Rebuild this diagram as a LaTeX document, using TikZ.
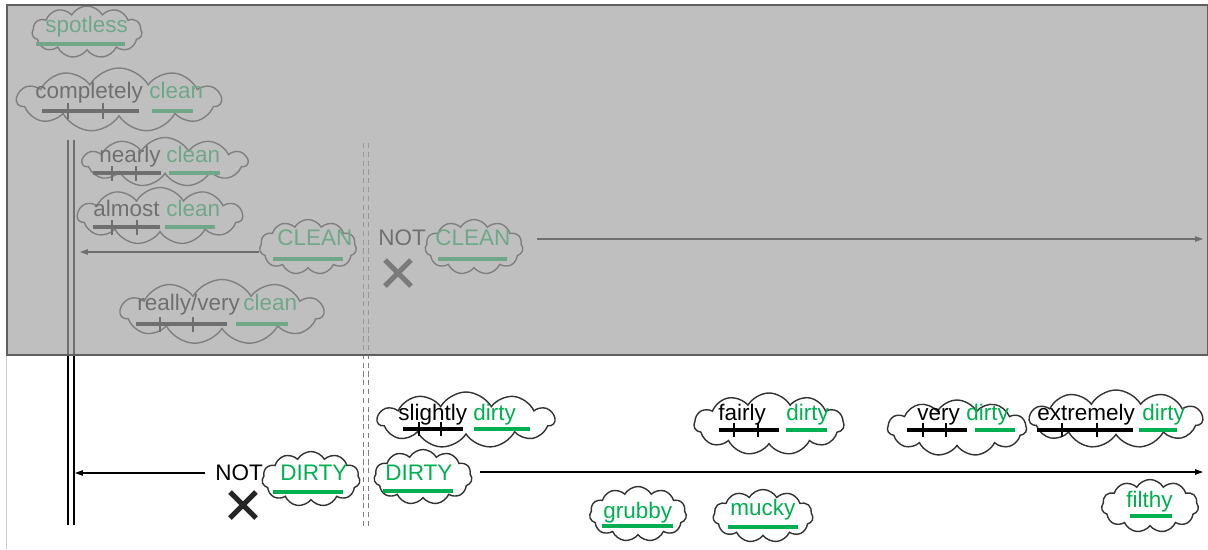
\documentclass[tikz,border=0pt]{standalone}
\usepackage{fontspec}
\newfontfamily\wordfont{Liberation Sans}
\usetikzlibrary{shapes.symbols,arrows.meta}
\definecolor{okgreen}{RGB}{0,176,80}
\definecolor{veil}{gray}{0.64}
\definecolor{veilline}{RGB}{96,96,96}
\tikzset{
  puff/.style={cloud, cloud puffs=11, cloud puff arc=120, cloud ignores aspect, draw=black!80, fill=white, line width=0.8pt, inner sep=0pt},
  word/.style={inner sep=0pt, anchor=base west, font=\wordfont\fontsize{12.8}{15}\selectfont},
  gword/.style={word, text=okgreen},
  scalebar/.style={line width=2.3pt},
  gbar/.style={line width=2.3pt, okgreen},
  tick/.style={line width=0.9pt},
  arrow/.style={line width=0.6pt, -{Triangle[length=1.6mm,width=1.1mm]}},
  cross/.style={line width=3pt, black!85},
}
\begin{document}
\begin{tikzpicture}[x=0.02cm, y=-0.02cm]
    \useasboundingbox (0,0) rectangle (1208,549);
    \fill[white] (0,0) rectangle (1208,549);
    \draw[black!20] (6,355) -- (6,549);

    % Draw rails
    \draw[line width=0.6pt] (68,140) -- (68,525);
    \draw[line width=0.6pt] (74,140) -- (74,525);
    \draw[gray, densely dashed, line width=0.5pt] (363,143) -- (363,527);
    \draw[gray, densely dashed, line width=0.5pt] (368,143) -- (368,527);

    % Draw clean clouds
    \node[puff, minimum width=2.2cm, minimum height=1.04cm] (spotless) at (87,32) {};
    \node[puff, minimum width=4.08cm, minimum height=1.28cm] (completely) at (119,100) {};
    \node[puff, minimum width=3.3cm, minimum height=0.98cm] (nearly) at (165,162) {};
    \node[puff, minimum width=3.3cm, minimum height=1.14cm] (almost) at (160,216) {};
    \node[puff, minimum width=1.94cm, minimum height=1.1cm] (cleanA) at (308,247) {};
    \node[puff, minimum width=1.96cm, minimum height=1.1cm] (notclean) at (474,247) {};
    \node[puff, minimum width=4.06cm, minimum height=1.3cm] (really) at (222,312) {};

    % Draw clean words
    \node[gword] (spotlessW) at (45,32) {spotless};
    \draw[gbar] (36,44) -- (125,44);

    \node[word] (completelyW) at (35,98) {completely};
    \node[gword] (completelyC) at (149,98) {clean};
    \draw[scalebar] (42,111) -- (139,111);
    \draw[tick] (68,103) -- (68,119);
    \draw[tick] (103,103) -- (103,119);
    \draw[gbar] (152,111) -- (193,111);

    \node[word] (nearlyW) at (99,162) {nearly};
    \node[gword] (nearlyC) at (166,162) {clean};
    \draw[scalebar] (93,173) -- (161,173);
    \draw[tick] (112,166) -- (112,181);
    \draw[tick] (136,166) -- (136,181);
    \draw[gbar] (169,173) -- (220,173);

    \node[word] (almostW) at (93,216) {almost};
    \node[gword] (almostC) at (166,216) {clean};
    \draw[scalebar] (93,227) -- (160,227);
    \draw[tick] (112,220) -- (112,235);
    \draw[tick] (137,220) -- (137,235);
    \draw[gbar] (165,227) -- (215,227);

    \node[gword] (cleanW) at (277,245) {CLEAN};
    \draw[gbar] (273,259) -- (343,259);

    \node[word] (notC) at (378,245) {NOT};
    \draw[cross] (385,260) -- (411,286);
    \draw[cross] (385,286) -- (411,260);
    \node[gword] (notcleanW) at (435,245) {CLEAN};
    \draw[gbar] (438,259) -- (507,259);

    \node[word] (reallyW) at (137,310) {really/very};
    \node[gword] (reallyC) at (243,310) {clean};
    \draw[scalebar] (136,324) -- (227,324);
    \draw[tick] (160,317) -- (160,332);
    \draw[tick] (193,317) -- (193,332);
    \draw[gbar] (236,324) -- (288,324);

    % Draw clean arrows
    \coordinate (cleanstop) at (80,252);
    \draw[arrow] (cleanA.west |- cleanstop) -- (cleanstop);
    \coordinate (cleango) at (1203,239);
    \draw[arrow, shorten <=0.28cm] (notclean.east |- cleango) -- (cleango);

    % Draw veil
    \fill[veil, fill opacity=0.686] (7,5) rectangle (1208,355);
    \draw[veilline, line width=0.8pt] (7,5) rectangle (1208,355);

    % Draw dirty clouds
    \node[puff, minimum width=3.54cm, minimum height=1.12cm] (slightly) at (466,420) {};
    \node[puff, minimum width=3.0cm, minimum height=1.24cm] (fairly) at (769,424) {};
    \node[puff, minimum width=2.78cm, minimum height=1.12cm] (very) at (957,428) {};
    \node[puff, minimum width=3.46cm, minimum height=1.16cm] (extremely) at (1116,419) {};
    \node[puff, minimum width=1.96cm, minimum height=1.1cm] (dirtyR) at (423,477) {};
    \node[puff, minimum width=1.96cm, minimum height=1.1cm] (dirtyL) at (311,479) {};
    \node[puff, minimum width=1.94cm, minimum height=1.1cm] (grubby) at (638,514) {};
    \node[puff, minimum width=2.0cm, minimum height=1.06cm] (mucky) at (763,516) {};
    \node[puff, minimum width=1.94cm, minimum height=1.06cm] (filthy) at (1150,506) {};

    % Draw dirty words
    \node[word] (slightlyW) at (398,420) {slightly};
    \node[gword] (slightlyD) at (473,420) {dirty};
    \draw[scalebar] (403,429) -- (463,429);
    \draw[tick] (419,422) -- (419,436);
    \draw[tick] (441,422) -- (441,436);
    \draw[gbar] (474,429) -- (530,429);

    \node[word] (fairlyW) at (718,420) {fairly};
    \node[gword] (fairlyD) at (786,420) {dirty};
    \draw[scalebar] (719,430) -- (779,430);
    \draw[tick] (734,423) -- (734,437);
    \draw[tick] (758,423) -- (758,437);
    \draw[gbar] (786,430) -- (827,430);

    \node[word] (veryW) at (917,420) {very};
    \node[gword] (veryD) at (966,420) {dirty};
    \draw[scalebar] (907,430) -- (967,430);
    \draw[tick] (923,423) -- (923,437);
    \draw[tick] (946,423) -- (946,437);
    \draw[gbar] (975,430) -- (1015,430);

    \node[word] (extremelyW) at (1037,420) {extremely};
    \node[gword] (extremelyD) at (1142,420) {dirty};
    \draw[scalebar] (1037,430) -- (1133,430);
    \draw[tick] (1062,423) -- (1062,437);
    \draw[tick] (1097,423) -- (1097,437);
    \draw[gbar] (1139,430) -- (1177,430);

    \node[gword] (dirtyRW) at (385,480) {DIRTY};
    \draw[gbar] (383,491) -- (453,491);

    \node[word] (notD) at (215,480) {NOT};
    \node[gword] (dirtyLW) at (280,480) {DIRTY};
    \draw[gbar] (273,492) -- (343,492);
    \draw[cross] (230,492) -- (256,518);
    \draw[cross] (230,518) -- (256,492);

    \node[gword] (grubbyW) at (603,518) {grubby};
    \draw[gbar] (602,526) -- (673,526);
    \node[gword] (muckyW) at (730,515) {mucky};
    \draw[gbar] (728,527) -- (798,527);
    \node[gword] (filthyW) at (1126,507) {filthy};
    \draw[gbar] (1130,516) -- (1172,516);

    % Draw dirty arrows
    \coordinate (dirtystop) at (75,473);
    \draw[arrow, shorten <=0.2cm] (notD.west |- dirtystop) -- (dirtystop);
    \coordinate (dirtygo) at (1203,472);
    \draw[arrow, shorten <=0.16cm] (dirtyR.east |- dirtygo) -- (dirtygo);
\end{tikzpicture}
\end{document}
